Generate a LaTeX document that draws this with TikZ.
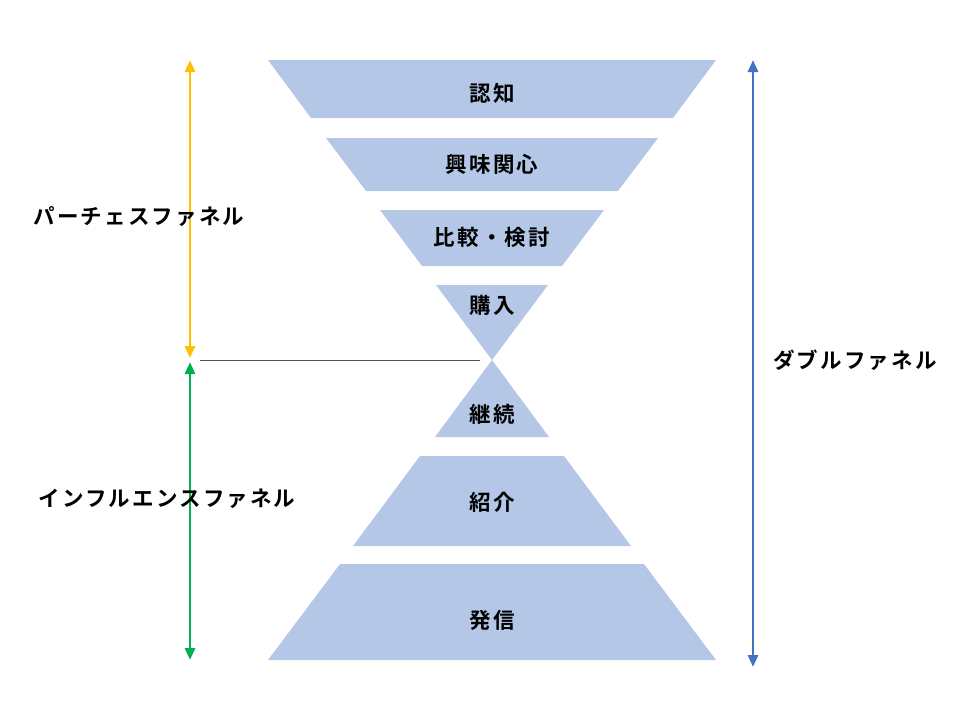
\documentclass[tikz,border=0pt]{standalone}
\usepackage{fontspec}
\usepackage{xcolor}
\usepackage{tikz}
\usetikzlibrary{arrows.meta}
\newfontfamily\jpfont[LetterSpace=10]{Noto Sans CJK JP Bold}

\definecolor{stagefill}{HTML}{B4C7E7}
\definecolor{purchcol}{HTML}{FFC000}
\definecolor{inflcol}{HTML}{00B050}
\definecolor{doublecol}{HTML}{4472C4}
\definecolor{splitcol}{HTML}{44546A}

\tikzset{
  stage/.style={fill=stagefill, draw=none},
  stagetext/.style={font=\jpfont\fontsize{21.5}{25}\selectfont, inner sep=0pt},
  sidetext/.style={font=\jpfont\fontsize{21.5}{25}\selectfont, inner sep=0pt},
  span/.style={line width=2.8pt, {Triangle[width=10pt,length=12pt]}-{Triangle[width=10pt,length=12pt]}},
}

\begin{document}
\begin{tikzpicture}[x=1pt,y=-1pt]
        \useasboundingbox (0,0) rectangle (960,720);

        \fill [stage] (268,60)  -- (716,60)  -- (673,118) -- (311,118) -- cycle;   %awareness
        \node [stagetext] (ninchi)  at (492,93)  {認知};
        \fill [stage] (326,138) -- (658,138) -- (618,191) -- (366,191) -- cycle;   %interest
        \node [stagetext] (kyoumi)  at (492,164) {興味関心};
        \fill [stage] (380,210) -- (604,210) -- (562,266) -- (422,266) -- cycle;   %compare
        \node [stagetext] (hikaku)  at (492,237) {比較・検討};
        \fill [stage] (436,285) -- (548,285) -- (492,360) -- cycle;                %purchase
        \node [stagetext] (kounyu)  at (492,305) {購入};

        \fill [stage] (492,360) -- (549,437) -- (435,437) -- cycle;                %continue
        \node [stagetext] (keizoku) at (492,414) {継続};
        \fill [stage] (420,456) -- (564,456) -- (631,546) -- (353,546) -- cycle;   %referral
        \node [stagetext] (shoukai) at (492,502) {紹介};
        \fill [stage] (340,564) -- (644,564) -- (716,660) -- (268,660) -- cycle;   %sending
        \node [stagetext] (hasshin) at (492,620) {発信};

        \coordinate (ptop) at (190,60);
        \coordinate (pbot) at (190,358);
        \coordinate (itop) at (190,362);
        \coordinate (ibot) at (190,660);
        \coordinate (dtop) at (753,60);
        \coordinate (dbot) at (753,667);
        \coordinate (lstart) at (200,360);
        \coordinate (lend)   at (480,360);

        \draw [span, purchcol]   (ptop) -- (pbot);                                 %purchase funnel
        \draw [span, inflcol]    (itop) -- (ibot);                                 %influence funnel
        \draw [span, doublecol]  (dtop) -- (dbot);                                 %double funnel
        \draw [splitcol, line width=0.8pt] (lstart) -- (lend);                     %

        \node [sidetext] (purchase)  at (139,217) {パーチェスファネル};
        \node [sidetext] (influence) at (167,499) {インフルエンスファネル};
        \node [sidetext] (double)    at (855,360) {ダブルファネル};
\end{tikzpicture}
\end{document}
